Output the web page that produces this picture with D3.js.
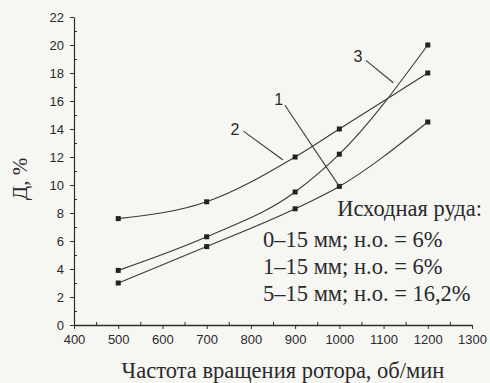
<!DOCTYPE html>
<html>
<head>
<meta charset="utf-8">
<script src="https://cdn.jsdelivr.net/npm/d3@7"></script>
<style>
  body { margin: 0; background: #f6f6f3; }
  svg { display: block; }
  .tick text { font-family: "Liberation Sans", Arial, sans-serif; font-size: 13px; fill: #2a2a2a; }
</style>
</head>
<body>
<div id="chart"></div>
<script>
// Rotor speed, rpm
const speeds = [500, 700, 900, 1000, 1200];
// D, % for each curve
const series1 = [3.0, 5.6, 8.3, 9.9, 14.5];
const series2 = [7.6, 8.8, 12.0, 14.0, 18.0];
const series3 = [3.9, 6.3, 9.5, 12.2, 20.0];
const seriesNames = ["1", "2", "3"];

const xTicks = [400, 500, 600, 700, 800, 900, 1000, 1100, 1200, 1300];
const yTicks = [0, 2, 4, 6, 8, 10, 12, 14, 16, 18, 20, 22];

// curve labels: text position and leader line, in data units
const labelPos = [
  { x: 863, y: 15.7, x1: 877, y1: 15.7, x2: 1000, y2: 9.9 },
  { x: 764, y: 13.6, x1: 783, y1: 13.85, x2: 872, y2: 11.8 },
  { x: 1042, y: 18.8, x1: 1060, y1: 18.9, x2: 1122, y2: 17.3 }
];

const legendTitle = "Исходная руда:";
const legendLines = ["0–15 мм; н.о. = 6%", "1–15 мм; н.о. = 6%", "5–15 мм; н.о. = 16,2%"];

const width = 490, height = 383;
const margin = { top: 17, right: 18, bottom: 58, left: 74 };
const serif = "'Liberation Serif', 'Times New Roman', serif";

const svg = d3.select("#chart").append("svg")
  .attr("width", width)
  .attr("height", height);

const x = d3.scaleLinear().domain([400, 1300]).range([margin.left, width - margin.right]);
const y = d3.scaleLinear().domain([0, 22]).range([height - margin.bottom, margin.top]);

const ink = "#2e2e2e";

// Minor ticks (inside)
svg.append("g")
  .attr("transform", `translate(0,${y(0)})`)
  .call(d3.axisTop(x).tickValues(d3.range(450, 1300, 100)).tickSize(3).tickFormat(""))
  .call(g => g.select(".domain").remove())
  .selectAll("line").attr("stroke", ink);
svg.append("g")
  .attr("transform", `translate(${x(400)},0)`)
  .call(d3.axisRight(y).tickValues(d3.range(1, 22, 2)).tickSize(3).tickFormat(""))
  .call(g => g.select(".domain").remove())
  .selectAll("line").attr("stroke", ink);

// Major axes
const xAxis = svg.append("g")
  .attr("transform", `translate(0,${y(0)})`)
  .call(d3.axisBottom(x).tickValues(xTicks).tickFormat(d3.format("d"))
    .tickSize(4).tickSizeOuter(0).tickPadding(6));
xAxis.select(".domain").attr("stroke", ink).attr("stroke-width", 1.6);
xAxis.selectAll("line").attr("stroke", ink);

const yAxis = svg.append("g")
  .attr("transform", `translate(${x(400)},0)`)
  .call(d3.axisLeft(y).tickValues(yTicks).tickFormat(d3.format("d"))
    .tickSize(4).tickSizeOuter(0).tickPadding(6));
yAxis.select(".domain").attr("stroke", ink).attr("stroke-width", 1.2);
yAxis.selectAll("line").attr("stroke", ink);

// Curves
const allSeries = [series1, series2, series3];
const line = d3.line()
  .x(d => x(d[0]))
  .y(d => y(d[1]))
  .curve(d3.curveMonotoneX);

allSeries.forEach(vals => {
  const pts = speeds.map((s, i) => [s, vals[i]]);
  svg.append("path")
    .datum(pts)
    .attr("d", line)
    .attr("fill", "none")
    .attr("stroke", "#3a3a3a")
    .attr("stroke-width", 1.1);

  svg.selectAll(null)
    .data(pts)
    .enter()
    .append("rect")
    .attr("x", d => x(d[0]) - 2.5)
    .attr("y", d => y(d[1]) - 2.5)
    .attr("width", 5)
    .attr("height", 5)
    .attr("fill", "#222");
});

// Curve numbers with leader lines
labelPos.forEach((p, i) => {
  svg.append("line")
    .attr("x1", x(p.x1)).attr("y1", y(p.y1))
    .attr("x2", x(p.x2)).attr("y2", y(p.y2))
    .attr("stroke", "#3a3a3a")
    .attr("stroke-width", 1.1);
  svg.append("text")
    .attr("x", x(p.x))
    .attr("y", y(p.y))
    .attr("text-anchor", "middle")
    .style("font-family", "'Liberation Sans', Arial, sans-serif")
    .style("font-size", "16px")
    .attr("fill", "#2a2a2a")
    .text(seriesNames[i]);
});

// Legend text
svg.append("text")
  .attr("x", 482)
  .attr("y", 216)
  .attr("text-anchor", "end")
  .style("font-family", serif)
  .style("font-size", "22.5px")
  .attr("fill", "#2a2a2a")
  .text(legendTitle);

svg.selectAll(null)
  .data(legendLines)
  .enter()
  .append("text")
  .attr("x", 263)
  .attr("y", (d, i) => 247 + i * 27)
  .style("font-family", serif)
  .style("font-size", "22.5px")
  .attr("fill", "#2a2a2a")
  .text(d => d);

// Axis titles
svg.append("text")
  .attr("x", 283)
  .attr("y", 378)
  .attr("text-anchor", "middle")
  .style("font-family", serif)
  .style("font-size", "22.5px")
  .attr("fill", "#2a2a2a")
  .text("Частота вращения ротора, об/мин");

svg.append("text")
  .attr("transform", "translate(27,179) rotate(-90)")
  .attr("text-anchor", "middle")
  .style("font-family", serif)
  .style("font-size", "21px")
  .attr("fill", "#2a2a2a")
  .text("Д, %");
</script>
</body>
</html>
